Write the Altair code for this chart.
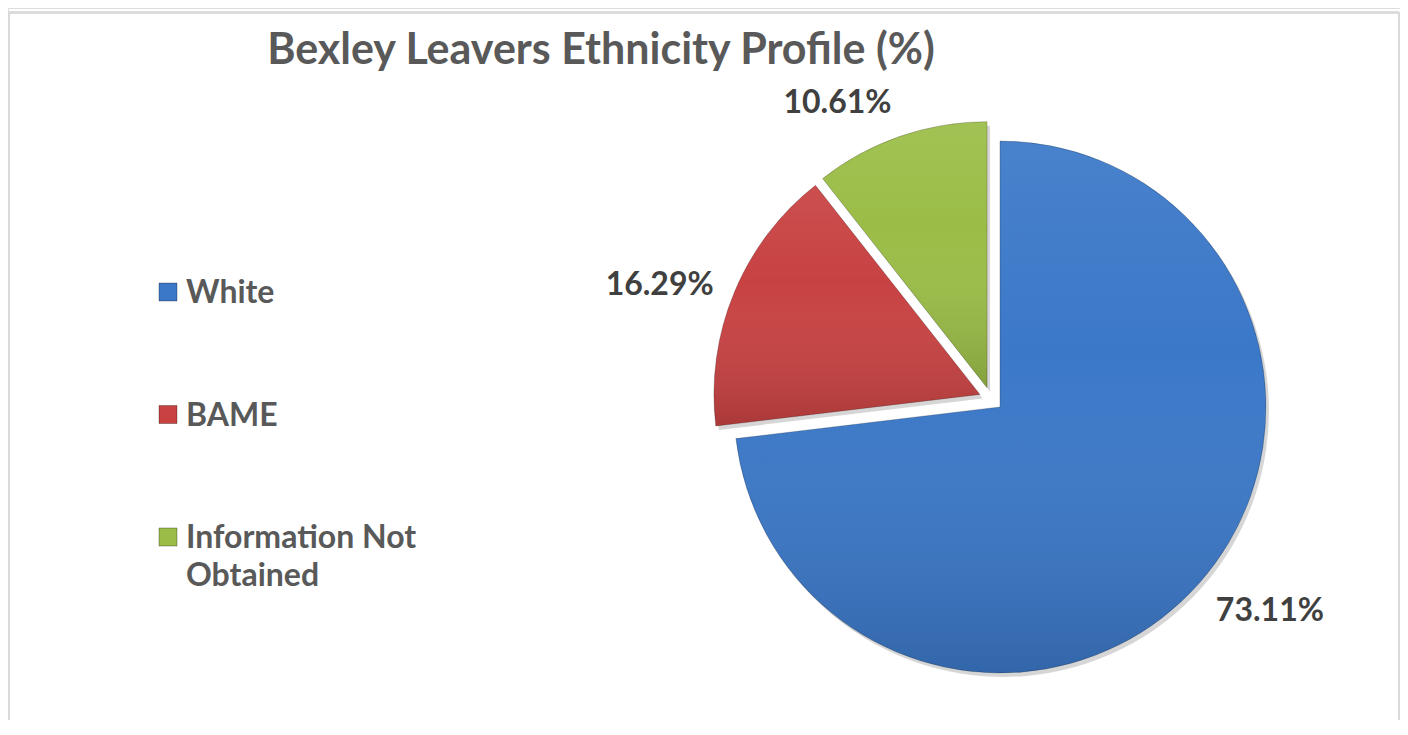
import altair as alt
import pandas as pd

# ---- data -------------------------------------------------------------
categories = ["White", "BAME", "Information Not Obtained"]
values = [73.11, 16.29, 10.61]
legend_lines = [["White"], ["BAME"], ["Information Not", "Obtained"]]
colors = ["#3B78C8", "#C84242", "#9BBD47"]

df = pd.DataFrame({
    "category": categories,
    "value": values,
    "lines": legend_lines,
    "order": list(range(len(categories))),
})

# ---- layout constants (pixels in the plot area) -------------------------
W, H = 1392, 712
CX, CY, R, EXP = 983, 391, 266, 12       # pie centre, radius, explosion
GAP, HW, HH = 20, 56, 14                 # label gap, half label box
LX_SYM, LX_TXT, LY0, LSTEP = 160, 178, 284, 122.5

FONT = "Lato"
TEXT_GREY = "#595959"

color_scale = alt.Scale(domain=categories, range=colors)

base = (
    alt.Chart(df)
    .transform_joinaggregate(total="sum(value)")
    .transform_window(cum="sum(value)", sort=[alt.SortField("order")], frame=[None, 0])
    .transform_calculate(
        t0="2*PI*(datum.cum - datum.value)/datum.total",
        t1="2*PI*datum.cum/datum.total",
    )
    .transform_calculate(mid="(datum.t0 + datum.t1)/2")
    .transform_calculate(s="sin(datum.mid)", c="cos(datum.mid)")
    .transform_calculate(
        cx=f"{CX} + {EXP}*datum.s",
        cy=f"{CY} - {EXP}*datum.c",
        lx=f"{CX} + {R + EXP + GAP}*datum.s + (abs(datum.s) > 0.2 ? (datum.s > 0 ? 1 : -1)*{HW} : 0)",
        ly=f"{CY} - {R + EXP + GAP}*datum.c + (abs(datum.c) > 0.5 ? (datum.c > 0 ? -1 : 1)*{HH} : 0)",
        pct="format(datum.value, '.2f') + '%'",
    )
)

pos = dict(
    x=alt.X("cx:Q", scale=None, axis=None),
    y=alt.Y("cy:Q", scale=None, axis=None),
    theta=alt.Theta("t0:Q", scale=None),
    theta2="t1:Q",
)

shadow = base.mark_arc(radius=R, color="#000000", opacity=0.16, xOffset=3, yOffset=4).encode(**pos)

slices = base.mark_arc(radius=R).encode(
    color=alt.Color("category:N", scale=color_scale, legend=None),
    **pos,
)

sheen = base.mark_arc(
    radius=R,
    color=alt.Gradient(
        gradient="linear",
        stops=[
            alt.GradientStop(color="rgba(255,255,255,0.07)", offset=0),
            alt.GradientStop(color="rgba(255,255,255,0.0)", offset=0.4),
            alt.GradientStop(color="rgba(0,0,0,0.15)", offset=1),
        ],
        x1=0, x2=0, y1=0, y2=1,
    ),
    stroke="#000000",
    strokeOpacity=0.2,
    strokeWidth=1,
).encode(**pos)

labels = base.mark_text(
    font=FONT, fontSize=32, fontWeight="bold", color="#404040",
    align="center", baseline="middle",
).encode(
    x=alt.X("lx:Q", scale=None, axis=None),
    y=alt.Y("ly:Q", scale=None, axis=None),
    text="pct:N",
)

leg = alt.Chart(df).transform_calculate(legy=f"{LY0} + datum.order*{LSTEP}")

leg_sym = leg.mark_square(size=324, opacity=1, stroke="#000000", strokeOpacity=0.3, strokeWidth=1).encode(
    x=alt.value(LX_SYM),
    y=alt.Y("legy:Q", scale=None, axis=None),
    color=alt.Color("category:N", scale=color_scale, legend=None),
)

leg_txt = leg.mark_text(
    font=FONT, fontSize=32, fontWeight="bold", color=TEXT_GREY,
    align="left", baseline="top", dy=-14, lineHeight=38,
).encode(
    x=alt.value(LX_TXT),
    y=alt.Y("legy:Q", scale=None, axis=None),
    text="lines:N",
)

border_l = alt.Chart(df).mark_rule(color="#d9d9d9", strokeWidth=2).encode(
    x=alt.value(1), y=alt.value(4.5), y2=alt.value(H))
border_t = alt.Chart(df).mark_rule(color="#d9d9d9", strokeWidth=2).encode(
    x=alt.value(0), x2=alt.value(W - 1), y=alt.value(4.5))
border_r = alt.Chart(df).mark_rule(color="#d9d9d9", strokeWidth=2).encode(
    x=alt.value(W - 1), y=alt.value(4.5), y2=alt.value(H))

chart = (
    alt.layer(border_l, border_t, border_r, shadow, slices, sheen, labels, leg_sym, leg_txt)
    .properties(
        width=W,
        height=H,
        autosize=alt.AutoSizeParams(type="none"),
        padding=0,
        title=alt.Title(
            "Bexley Leavers Ethnicity Profile (%)",
            font=FONT, fontSize=43, fontWeight="bold", color=TEXT_GREY,
            anchor="middle", frame="group", dx=-103, dy=44, offset=-55, baseline="alphabetic",
        ),
    )
    .configure_view(stroke=None)
    .configure(background="white")
)

chart.save("out.html", embed_options={"renderer": "svg", "actions": False})
